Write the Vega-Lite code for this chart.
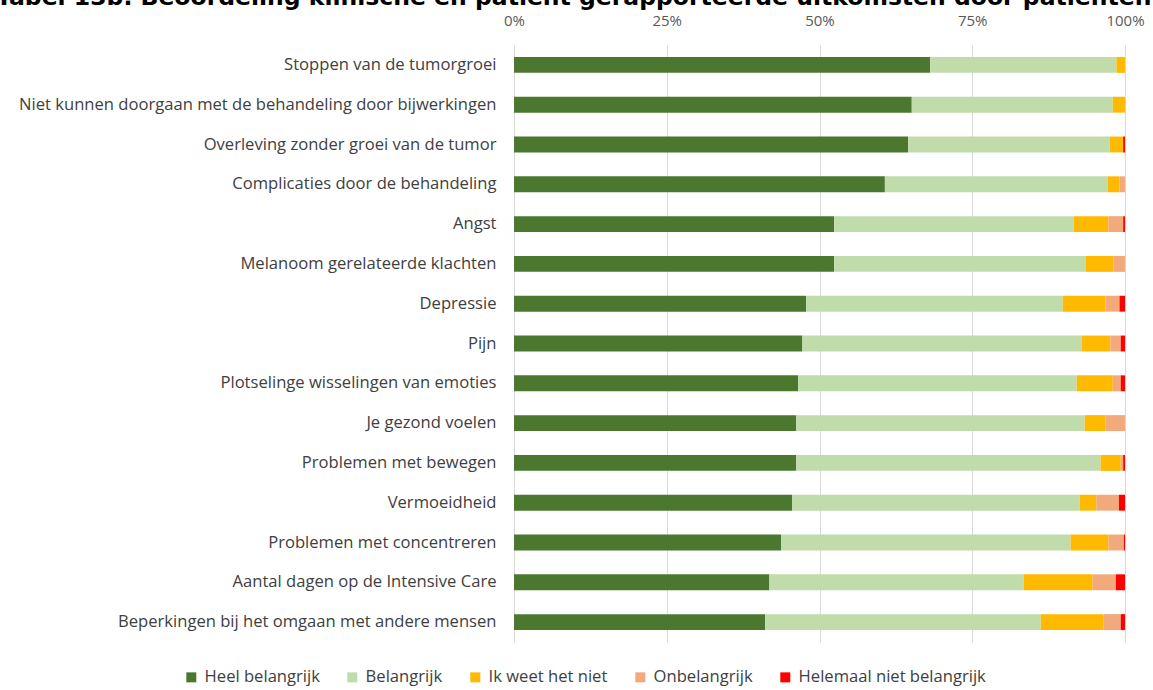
{
  "$schema": "https://vega.github.io/schema/vega-lite/v6.json",
  "width": 611,
  "height": 597,
  "autosize": {"type": "none"},
  "padding": {"left": 514, "top": 45, "right": 28, "bottom": 48},
  "background": "white",
  "title": {
    "text": "Tabel 13b. Beoordeling klinische en patiënt gerapporteerde uitkomsten door patiënten",
    "anchor": "start",
    "frame": "group",
    "dx": -518,
    "dy": -4,
    "offset": 0,
    "fontSize": 23.5,
    "font": "DejaVu Sans",
    "fontWeight": "bold",
    "color": "#000000"
  },
  "data": {
    "values": [
      {"q": "Stoppen van de tumorgroei", "c": "Heel belangrijk", "o": 1, "v": 68.1},
      {"q": "Stoppen van de tumorgroei", "c": "Belangrijk", "o": 2, "v": 30.5},
      {"q": "Stoppen van de tumorgroei", "c": "Ik weet het niet", "o": 3, "v": 1.4},
      {"q": "Stoppen van de tumorgroei", "c": "Onbelangrijk", "o": 4, "v": 0},
      {"q": "Stoppen van de tumorgroei", "c": "Helemaal niet belangrijk", "o": 5, "v": 0},
      {"q": "Niet kunnen doorgaan met de behandeling door bijwerkingen", "c": "Heel belangrijk", "o": 1, "v": 65.1},
      {"q": "Niet kunnen doorgaan met de behandeling door bijwerkingen", "c": "Belangrijk", "o": 2, "v": 32.9},
      {"q": "Niet kunnen doorgaan met de behandeling door bijwerkingen", "c": "Ik weet het niet", "o": 3, "v": 2.0},
      {"q": "Niet kunnen doorgaan met de behandeling door bijwerkingen", "c": "Onbelangrijk", "o": 4, "v": 0},
      {"q": "Niet kunnen doorgaan met de behandeling door bijwerkingen", "c": "Helemaal niet belangrijk", "o": 5, "v": 0},
      {"q": "Overleving zonder groei van de tumor", "c": "Heel belangrijk", "o": 1, "v": 64.5},
      {"q": "Overleving zonder groei van de tumor", "c": "Belangrijk", "o": 2, "v": 33.0},
      {"q": "Overleving zonder groei van de tumor", "c": "Ik weet het niet", "o": 3, "v": 2.2},
      {"q": "Overleving zonder groei van de tumor", "c": "Onbelangrijk", "o": 4, "v": 0},
      {"q": "Overleving zonder groei van de tumor", "c": "Helemaal niet belangrijk", "o": 5, "v": 0.3},
      {"q": "Complicaties door de behandeling", "c": "Heel belangrijk", "o": 1, "v": 60.7},
      {"q": "Complicaties door de behandeling", "c": "Belangrijk", "o": 2, "v": 36.5},
      {"q": "Complicaties door de behandeling", "c": "Ik weet het niet", "o": 3, "v": 1.9},
      {"q": "Complicaties door de behandeling", "c": "Onbelangrijk", "o": 4, "v": 0.9},
      {"q": "Complicaties door de behandeling", "c": "Helemaal niet belangrijk", "o": 5, "v": 0},
      {"q": "Angst", "c": "Heel belangrijk", "o": 1, "v": 52.4},
      {"q": "Angst", "c": "Belangrijk", "o": 2, "v": 39.2},
      {"q": "Angst", "c": "Ik weet het niet", "o": 3, "v": 5.7},
      {"q": "Angst", "c": "Onbelangrijk", "o": 4, "v": 2.4},
      {"q": "Angst", "c": "Helemaal niet belangrijk", "o": 5, "v": 0.3},
      {"q": "Melanoom gerelateerde klachten", "c": "Heel belangrijk", "o": 1, "v": 52.4},
      {"q": "Melanoom gerelateerde klachten", "c": "Belangrijk", "o": 2, "v": 41.2},
      {"q": "Melanoom gerelateerde klachten", "c": "Ik weet het niet", "o": 3, "v": 4.5},
      {"q": "Melanoom gerelateerde klachten", "c": "Onbelangrijk", "o": 4, "v": 1.9},
      {"q": "Melanoom gerelateerde klachten", "c": "Helemaal niet belangrijk", "o": 5, "v": 0},
      {"q": "Depressie", "c": "Heel belangrijk", "o": 1, "v": 47.8},
      {"q": "Depressie", "c": "Belangrijk", "o": 2, "v": 42.0},
      {"q": "Depressie", "c": "Ik weet het niet", "o": 3, "v": 7.0},
      {"q": "Depressie", "c": "Onbelangrijk", "o": 4, "v": 2.3},
      {"q": "Depressie", "c": "Helemaal niet belangrijk", "o": 5, "v": 0.9},
      {"q": "Pijn", "c": "Heel belangrijk", "o": 1, "v": 47.2},
      {"q": "Pijn", "c": "Belangrijk", "o": 2, "v": 45.7},
      {"q": "Pijn", "c": "Ik weet het niet", "o": 3, "v": 4.7},
      {"q": "Pijn", "c": "Onbelangrijk", "o": 4, "v": 1.7},
      {"q": "Pijn", "c": "Helemaal niet belangrijk", "o": 5, "v": 0.7},
      {"q": "Plotselinge wisselingen van emoties", "c": "Heel belangrijk", "o": 1, "v": 46.5},
      {"q": "Plotselinge wisselingen van emoties", "c": "Belangrijk", "o": 2, "v": 45.6},
      {"q": "Plotselinge wisselingen van emoties", "c": "Ik weet het niet", "o": 3, "v": 5.9},
      {"q": "Plotselinge wisselingen van emoties", "c": "Onbelangrijk", "o": 4, "v": 1.3},
      {"q": "Plotselinge wisselingen van emoties", "c": "Helemaal niet belangrijk", "o": 5, "v": 0.7},
      {"q": "Je gezond voelen", "c": "Heel belangrijk", "o": 1, "v": 46.2},
      {"q": "Je gezond voelen", "c": "Belangrijk", "o": 2, "v": 47.2},
      {"q": "Je gezond voelen", "c": "Ik weet het niet", "o": 3, "v": 3.4},
      {"q": "Je gezond voelen", "c": "Onbelangrijk", "o": 4, "v": 3.2},
      {"q": "Je gezond voelen", "c": "Helemaal niet belangrijk", "o": 5, "v": 0},
      {"q": "Problemen met bewegen", "c": "Heel belangrijk", "o": 1, "v": 46.2},
      {"q": "Problemen met bewegen", "c": "Belangrijk", "o": 2, "v": 49.8},
      {"q": "Problemen met bewegen", "c": "Ik weet het niet", "o": 3, "v": 3.3},
      {"q": "Problemen met bewegen", "c": "Onbelangrijk", "o": 4, "v": 0.4},
      {"q": "Problemen met bewegen", "c": "Helemaal niet belangrijk", "o": 5, "v": 0.3},
      {"q": "Vermoeidheid", "c": "Heel belangrijk", "o": 1, "v": 45.5},
      {"q": "Vermoeidheid", "c": "Belangrijk", "o": 2, "v": 47.1},
      {"q": "Vermoeidheid", "c": "Ik weet het niet", "o": 3, "v": 2.7},
      {"q": "Vermoeidheid", "c": "Onbelangrijk", "o": 4, "v": 3.7},
      {"q": "Vermoeidheid", "c": "Helemaal niet belangrijk", "o": 5, "v": 1.0},
      {"q": "Problemen met concentreren", "c": "Heel belangrijk", "o": 1, "v": 43.7},
      {"q": "Problemen met concentreren", "c": "Belangrijk", "o": 2, "v": 47.4},
      {"q": "Problemen met concentreren", "c": "Ik weet het niet", "o": 3, "v": 6.2},
      {"q": "Problemen met concentreren", "c": "Onbelangrijk", "o": 4, "v": 2.5},
      {"q": "Problemen met concentreren", "c": "Helemaal niet belangrijk", "o": 5, "v": 0.2},
      {"q": "Aantal dagen op de Intensive Care", "c": "Heel belangrijk", "o": 1, "v": 41.8},
      {"q": "Aantal dagen op de Intensive Care", "c": "Belangrijk", "o": 2, "v": 41.6},
      {"q": "Aantal dagen op de Intensive Care", "c": "Ik weet het niet", "o": 3, "v": 11.3},
      {"q": "Aantal dagen op de Intensive Care", "c": "Onbelangrijk", "o": 4, "v": 3.8},
      {"q": "Aantal dagen op de Intensive Care", "c": "Helemaal niet belangrijk", "o": 5, "v": 1.5},
      {"q": "Beperkingen bij het omgaan met andere mensen", "c": "Heel belangrijk", "o": 1, "v": 41.1},
      {"q": "Beperkingen bij het omgaan met andere mensen", "c": "Belangrijk", "o": 2, "v": 45.1},
      {"q": "Beperkingen bij het omgaan met andere mensen", "c": "Ik weet het niet", "o": 3, "v": 10.3},
      {"q": "Beperkingen bij het omgaan met andere mensen", "c": "Onbelangrijk", "o": 4, "v": 2.8},
      {"q": "Beperkingen bij het omgaan met andere mensen", "c": "Helemaal niet belangrijk", "o": 5, "v": 0.7}
    ]
  },
  "mark": {"type": "bar"},
  "encoding": {
    "y": {
      "field": "q",
      "type": "nominal",
      "sort": null,
      "title": null,
      "scale": {"paddingInner": 0.6, "paddingOuter": 0.3},
      "axis": {
        "domain": false,
        "ticks": false,
        "labelLimit": 700,
        "labelPadding": 18,
        "labelFont": "Open Sans",
        "labelFontSize": 16.6,
        "labelColor": "#404040"
      }
    },
    "x": {
      "field": "v",
      "type": "quantitative",
      "stack": "normalize",
      "title": null,
      "scale": {"domain": [0, 1], "nice": false},
      "axis": {
        "orient": "top",
        "format": ".0%",
        "values": [0, 0.25, 0.5, 0.75, 1],
        "domain": false,
        "ticks": false,
        "grid": true,
        "gridColor": "#d9d9d9",
        "gridWidth": 1,
        "labelPadding": 17,
        "labelFont": "Open Sans",
        "labelFontSize": 15,
        "labelColor": "#595959",
        "labelFlush": false
      }
    },
    "order": {"field": "o", "type": "quantitative", "sort": "ascending"},
    "color": {
      "field": "c",
      "type": "nominal",
      "title": null,
      "scale": {
        "domain": ["Heel belangrijk", "Belangrijk", "Ik weet het niet", "Onbelangrijk", "Helemaal niet belangrijk"],
        "range": ["#4B772E", "#C0DCAA", "#FFB900", "#F2A97B", "#FF0000"]
      },
      "legend": {
        "orient": "none",
        "direction": "horizontal",
        "legendX": -331,
        "legendY": 624,
        "symbolType": "square",
        "symbolSize": 100,
        "symbolStrokeWidth": 0,
        "symbolOffset": 0,
        "labelOffset": 5,
        "columnPadding": 24,
        "labelFont": "Open Sans",
        "labelFontSize": 16.6,
        "labelColor": "#404040",
        "labelLimit": 300
      }
    }
  },
  "config": {
    "view": {"stroke": null}
  }
}
